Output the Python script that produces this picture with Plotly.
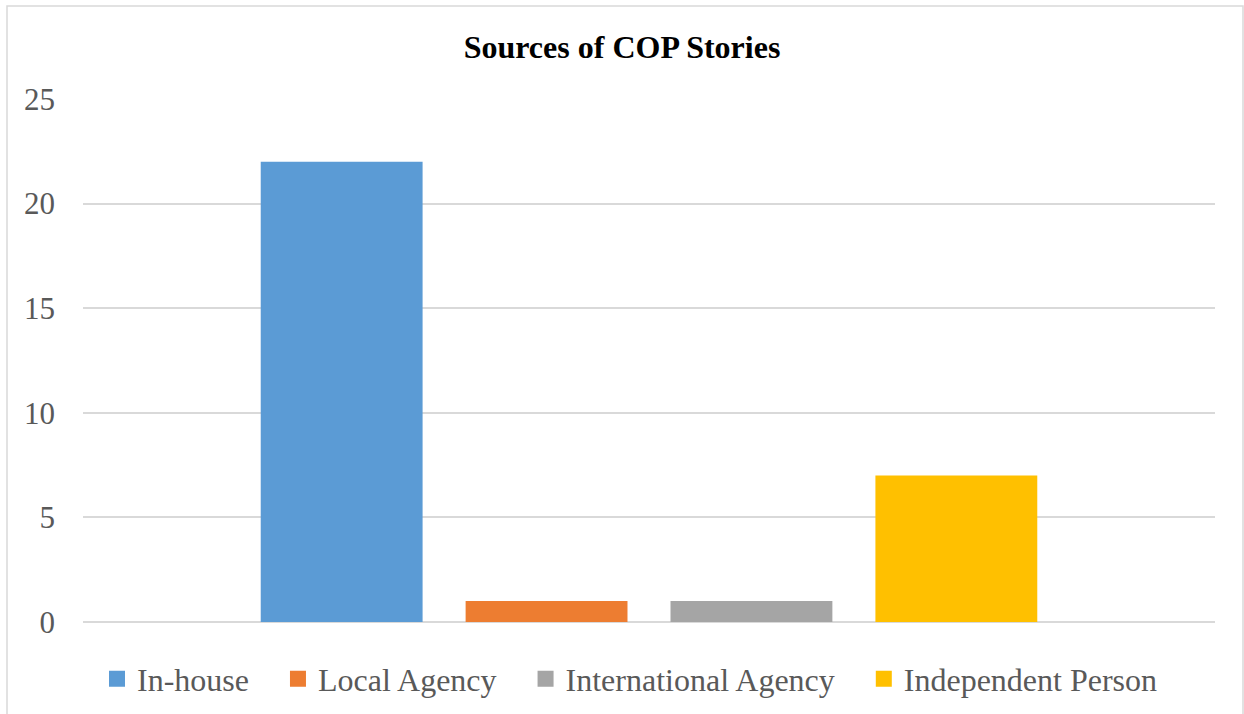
import plotly.graph_objects as go

# Story sources and their counts
category = ["Sources"]
series_names = ["In-house", "Local Agency", "International Agency", "Independent Person"]
series_values = [22, 1, 1, 7]
series_colors = ["#5B9BD5", "#ED7D31", "#A5A5A5", "#FFC000"]
y_ticks = [0, 5, 10, 15, 20, 25]

font_family = "'Liberation Serif', 'Times New Roman', Times, serif"

fig = go.Figure()
for name, val, col in zip(series_names, series_values, series_colors):
    fig.add_trace(go.Bar(x=category, y=[val], name=name, showlegend=False,
                         marker=dict(color=col, line=dict(width=0))))

# Legend entries with larger square swatches
for name, col in zip(series_names, series_colors):
    fig.add_trace(go.Scatter(x=[None], y=[None], mode="markers", name=name + "\u00a0\u00a0\u00a0",
                             marker=dict(symbol="square", size=16, color=col)))

fig.update_layout(
    width=1244, height=714,
    margin=dict(l=83, r=29, t=99, b=92, autoexpand=False),
    paper_bgcolor="white", plot_bgcolor="white",
    font=dict(family=font_family),
    barmode="group", bargap=0.276, bargroupgap=0.21,
    title=dict(text="<b>Sources of COP Stories</b>", x=0.5, xanchor="center",
               y=1 - 47 / 714, yanchor="middle",
               font=dict(family=font_family, size=32, color="black")),
    xaxis=dict(showticklabels=False, showgrid=False, zeroline=False, showline=False, ticks=""),
    yaxis=dict(range=[0, 25], tickvals=y_ticks, showgrid=True, gridcolor="#D9D9D9", gridwidth=2,
               zeroline=True, zerolinecolor="#D9D9D9", zerolinewidth=2, showline=False,
               tickfont=dict(family=font_family, size=31, color="#595959"),
               ticklabelstandoff=27),
    legend=dict(orientation="h", x=(113 - 83 - 16) / 1132, xanchor="left", y=-57 / 523, yanchor="middle",
                font=dict(family=font_family, size=32, color="#595959"),
                itemwidth=30, traceorder="normal"),
    showlegend=True,
    shapes=[dict(type="rect", xref="paper", yref="paper", x0=-76 / 1132, x1=1160 / 1132,
                 y0=-(714 - 622) / 523 - 0.05, y1=1 + 93 / 523,
                 line=dict(color="#D9D9D9", width=1.5), fillcolor="rgba(0,0,0,0)", layer="below")],
)

fig.write_html("out.html")
